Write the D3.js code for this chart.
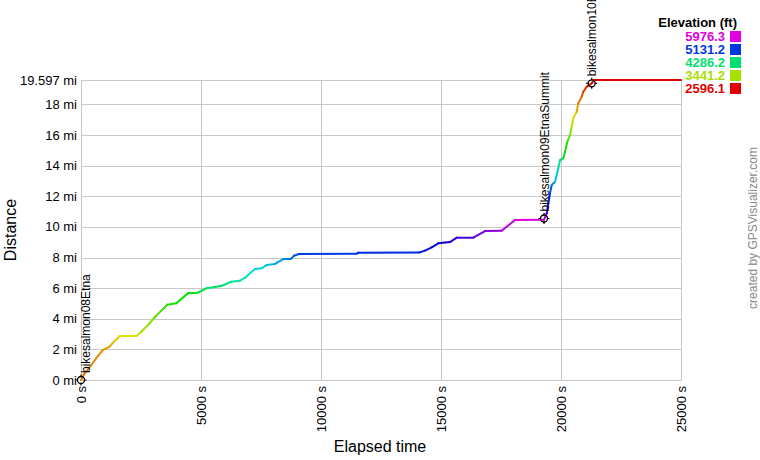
<!doctype html>
<html>
<head>
    <title>Distance vs elapsed time</title>
    <script src="https://cdnjs.cloudflare.com/ajax/libs/d3/7.8.5/d3.min.js"></script>
    <style>
        body { margin: 0; background: #fff; }
        text { font-family: "Liberation Sans", Arial, sans-serif; }
    </style>
</head>
<body>
    <svg width="760" height="460"></svg>
    <script>
        // track: elapsed time (s), distance (mi), elevation (ft)
        var times = [0, 154, 429, 708, 917, 1196, 1333, 1613, 2304, 2513, 2792, 3071, 3346, 3596, 3971,
            4458, 4875, 5221, 5846, 6263, 6625, 6833, 7042, 7250, 7529, 7738, 8083, 8429, 8738, 8875,
            9083, 11488, 11554, 14096, 14333, 14613, 14888, 15375, 15654, 16346, 16833, 17529, 18083,
            19292, 19404, 19471, 19542, 19613, 19750, 19888, 19958, 20096, 20167, 20263, 20375, 20446,
            20513, 20654, 20721, 20863, 20929, 21071, 21279, 21375, 25000];
        var distances = [0, 0.44, 0.98, 1.57, 1.96, 2.18, 2.44, 2.87, 2.87, 3.15, 3.59, 4.10, 4.53, 4.92, 5.01,
            5.66, 5.70, 5.99, 6.14, 6.42, 6.49, 6.68, 6.97, 7.25, 7.30, 7.51, 7.58, 7.90, 7.90, 8.12,
            8.23, 8.25, 8.32, 8.33, 8.45, 8.67, 8.93, 9.01, 9.30, 9.30, 9.73, 9.75, 10.45,
            10.47, 10.89, 11.54, 12.20, 12.74, 12.95, 13.83, 14.37, 14.48, 14.91, 15.57, 16.00, 16.55,
            17.09, 17.53, 18.07, 18.51, 18.83, 19.16, 19.38, 19.597, 19.597];
        var elevations = [2930, 2968, 3000, 3025, 3047, 3103, 3137, 3250, 3295, 3407, 3520, 3632, 3723, 3813, 3890,
            4005, 4083, 4196, 4308, 4398, 4455, 4511, 4568, 4624, 4658, 4714, 4770, 4883, 4940, 5018,
            5097, 5141, 5153, 5187, 5210, 5255, 5300, 5356, 5469, 5548, 5661, 5774, 5954,
            5976, 5638, 5300, 5131, 4962, 4793, 4624, 4286, 4174, 4005, 3779, 3610, 3441,
            3295, 3160, 3025, 2912, 2799, 2709, 2630, 2596, 2596];

        // waypoints
        var wptNames = ["bikesalmon08Etna", "bikesalmon09EtnaSummit", "bikesalmon10EtnaReturn"];
        var wptTimes = [0, 19292, 21279];
        var wptDistances = [0, 10.55, 19.38];

        // axes
        var xTicks = [0, 5000, 10000, 15000, 20000, 25000];
        var yTicks = [0, 2, 4, 6, 8, 10, 12, 14, 16, 18, 19.597];
        var legendValues = [5976.3, 5131.2, 4286.2, 3441.2, 2596.1];

        var svg = d3.select("svg");
        var plotLeft = 81, plotRight = 681, plotTop = 80, plotBottom = 380;

        var x = d3.scaleLinear().domain([0, 25000]).range([plotLeft, plotRight]);
        var y = d3.scaleLinear().domain([0, 19.597]).range([plotBottom, plotTop]);
        var hue = d3.scaleLinear().domain([2596.1, 5976.3]).range([0, 300]).clamp(true);
        function elevColor(e) { return d3.hsl(hue(e), 1, 0.44).formatHex(); }

        // grid
        var grid = svg.append("g").attr("stroke", "#c8c8c8").attr("stroke-width", 1);
        grid.selectAll(".h").data(yTicks).enter().append("line")
            .attr("x1", plotLeft).attr("x2", plotRight)
            .attr("y1", function (d) { return Math.round(y(d)) + 0.5; })
            .attr("y2", function (d) { return Math.round(y(d)) + 0.5; });
        grid.selectAll(".v").data(xTicks).enter().append("line")
            .attr("y1", plotTop).attr("y2", plotBottom + 1)
            .attr("x1", function (d) { return Math.round(x(d)) + 0.5; })
            .attr("x2", function (d) { return Math.round(x(d)) + 0.5; });

        // y tick labels
        svg.append("g").selectAll("text").data(yTicks).enter().append("text")
            .attr("x", 77).attr("y", function (d) { return y(d) + 4.5; })
            .attr("text-anchor", "end").attr("font-size", 13).attr("fill", "#000")
            .text(function (d) { return d + " mi"; });

        // x tick labels
        svg.append("g").selectAll("text").data(xTicks).enter().append("text")
            .attr("transform", function (d) { return "translate(" + (x(d) + 4.5) + "," + 386 + ") rotate(-90)"; })
            .attr("text-anchor", "end").attr("font-size", 13).attr("fill", "#000")
            .text(function (d) { return d + " s"; });

        // axis titles
        svg.append("text").attr("transform", "translate(16,230) rotate(-90)")
            .attr("text-anchor", "middle").attr("font-size", 16).text("Distance");
        svg.append("text").attr("x", 380).attr("y", 452)
            .attr("text-anchor", "middle").attr("font-size", 16).text("Elapsed time");

        // track, one segment per pair of points, coloured by elevation
        var segs = d3.range(times.length - 1);
        svg.append("g").selectAll("line").data(segs).enter().append("line")
            .attr("x1", function (i) { return x(times[i]); })
            .attr("y1", function (i) { return y(distances[i]); })
            .attr("x2", function (i) { return x(times[i + 1]); })
            .attr("y2", function (i) { return y(distances[i + 1]); })
            .attr("stroke", function (i) { return elevColor((elevations[i] + elevations[i + 1]) / 2); })
            .attr("stroke-width", 2).attr("stroke-linecap", "round");

        // waypoints
        var wpts = svg.append("g");
        wptNames.forEach(function (name, i) {
            var cx = x(wptTimes[i]), cy = y(wptDistances[i]);
            var g = wpts.append("g");
            g.append("circle").attr("cx", cx).attr("cy", cy).attr("r", 3.5)
                .attr("fill", "none").attr("stroke", "#000").attr("stroke-width", 1.3);
            g.append("path")
                .attr("d", "M" + (cx - 5.5) + "," + cy + "h2.5M" + (cx + 3) + "," + cy + "h2.5M" +
                    cx + "," + (cy - 5.5) + "v2.5M" + cx + "," + (cy + 3) + "v2.5")
                .attr("stroke", "#000").attr("stroke-width", 1.2);
            var bx = Math.max(cx + 4.5, plotLeft + 8.5);
            g.append("text")
                .attr("transform", "translate(" + bx + "," + (cy - 7) + ") rotate(-90)")
                .attr("font-size", 12).attr("fill", "#000").text(name);
        });

        // legend
        svg.append("text").attr("x", 737).attr("y", 27).attr("text-anchor", "end")
            .attr("font-size", 13).attr("font-weight", "bold").text("Elevation (ft)");
        var leg = svg.append("g").selectAll("g").data(legendValues).enter().append("g")
            .attr("transform", function (d, i) { return "translate(0," + (31 + i * 13) + ")"; });
        leg.append("rect").attr("x", 730).attr("y", 0).attr("width", 11).attr("height", 11)
            .attr("fill", function (d) { return elevColor(d); });
        leg.append("text").attr("x", 725).attr("y", 10).attr("text-anchor", "end")
            .attr("font-size", 13).attr("font-weight", "bold")
            .attr("fill", function (d) { return elevColor(d); })
            .text(function (d) { return d.toFixed(1); });

        // credit
        svg.append("text").attr("transform", "translate(757,228) rotate(-90)")
            .attr("text-anchor", "middle").attr("font-size", 12).attr("fill", "#888")
            .text("created by GPSVisualizer.com");
    </script>
</body>
</html>
